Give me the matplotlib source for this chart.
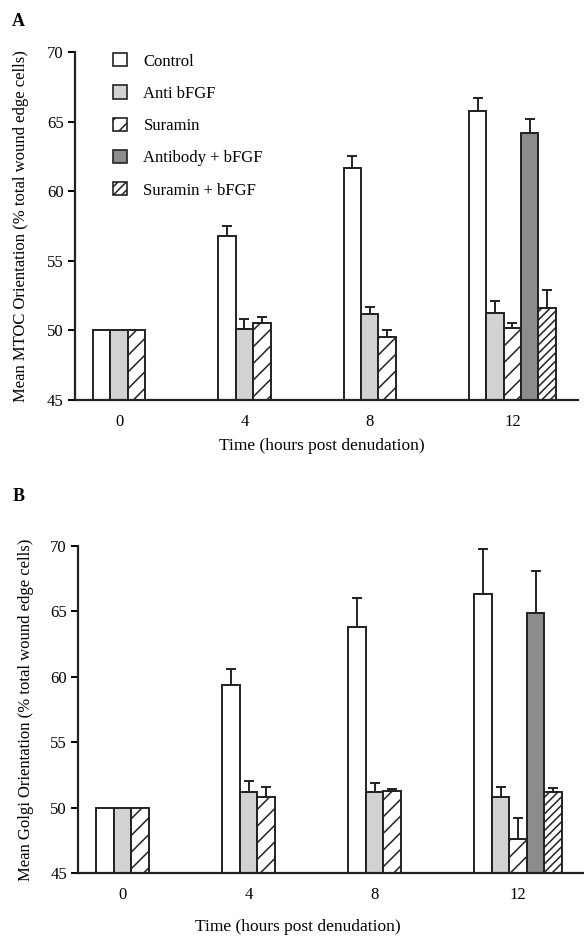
import matplotlib.pyplot as plt
from matplotlib.patches import Patch
import numpy as np

plt.rcParams['font.family'] = ['Liberation Serif', 'DejaVu Serif']
plt.rcParams['hatch.linewidth'] = 1.1

times = ['0', '4', '8', '12']
series = ['Control', 'Anti bFGF', 'Suramin', 'Antibody + bFGF', 'Suramin + bFGF']

# panel A: MTOC orientation (mean, top of error bar)
mtoc_control = [50.0, 56.8, 61.7, 65.8]
mtoc_control_err = [0.0, 0.7, 0.8, 0.9]
mtoc_anti = [50.0, 50.1, 51.2, 51.25]
mtoc_anti_err = [0.0, 0.7, 0.5, 0.85]
mtoc_suramin = [50.0, 50.5, 49.5, 50.2]
mtoc_suramin_err = [0.0, 0.5, 0.5, 0.35]
mtoc_ab_bfgf = [64.2]
mtoc_ab_bfgf_err = [1.0]
mtoc_sur_bfgf = [51.6]
mtoc_sur_bfgf_err = [1.3]

# panel B: Golgi orientation
golgi_control = [50.0, 59.4, 63.8, 66.3]
golgi_control_err = [0.0, 1.2, 2.2, 3.5]
golgi_anti = [50.0, 51.2, 51.2, 50.8]
golgi_anti_err = [0.0, 0.8, 0.7, 0.8]
golgi_suramin = [50.0, 50.8, 51.3, 47.6]
golgi_suramin_err = [0.0, 0.8, 0.1, 1.6]
golgi_ab_bfgf = [64.9]
golgi_ab_bfgf_err = [3.2]
golgi_sur_bfgf = [51.2]
golgi_sur_bfgf_err = [0.3]

styles = [
    dict(facecolor='white', hatch=None),
    dict(facecolor='#d2d2d2', hatch=None),
    dict(facecolor='white', hatch='//'),
    dict(facecolor='#8c8c8c', hatch=None),
    dict(facecolor='white', hatch='////'),
]

w = 0.139
base = 45


def draw(ax, data, ylabel):
    x = np.arange(len(times))
    for k, (vals, err) in enumerate(data):
        pos = x[:len(vals)] if k < 3 else x[3:3 + len(vals)]
        vals = np.array(vals)
        ax.bar(pos + k * w, vals - base, w, bottom=base, align='edge',
               edgecolor='#222222', linewidth=1.4, **styles[k])
        e = np.array(err)
        m = e > 0
        ax.errorbar(pos[m] + k * w + w / 2, vals[m], yerr=[np.zeros(m.sum()), e[m]],
                    fmt='none', ecolor='#222222', elinewidth=1.4, capsize=3.5, capthick=1.4)
    ax.set_ylim(45, 70)
    ax.set_yticks([45, 50, 55, 60, 65, 70])
    ax.set_xlim(-0.144, 3.87)
    centers = x + np.array([3, 3, 3, 5]) * w / 2
    ax.set_xticks(centers)
    ax.set_xticklabels(times)
    ax.tick_params(axis='x', length=0, pad=10, labelsize=12)
    ax.tick_params(axis='y', length=5, width=1.4, direction='out', labelsize=12, pad=3)
    for s in ['top', 'right']:
        ax.spines[s].set_visible(False)
    for s in ['left', 'bottom']:
        ax.spines[s].set_linewidth(1.6)
        ax.spines[s].set_color('#222222')
    ax.set_ylabel(ylabel, fontsize=12)
    ax.set_xlabel('Time (hours post denudation)', fontsize=12.5)


fig = plt.figure(figsize=(5.84, 9.36), dpi=100)
axA = fig.add_axes([0.1284, 0.5726, 0.861, 0.3718])
axB = fig.add_axes([0.1336, 0.0673, 0.8664, 0.3494])

draw(axA, [(mtoc_control, mtoc_control_err), (mtoc_anti, mtoc_anti_err),
           (mtoc_suramin, mtoc_suramin_err), (mtoc_ab_bfgf, mtoc_ab_bfgf_err),
           (mtoc_sur_bfgf, mtoc_sur_bfgf_err)],
     'Mean MTOC Orientation (% total wound edge cells)')
draw(axB, [(golgi_control, golgi_control_err), (golgi_anti, golgi_anti_err),
           (golgi_suramin, golgi_suramin_err), (golgi_ab_bfgf, golgi_ab_bfgf_err),
           (golgi_sur_bfgf, golgi_sur_bfgf_err)],
     'Mean Golgi Orientation (% total wound edge cells)')

axA.yaxis.set_label_coords(-0.092, 0.5)
axB.yaxis.set_label_coords(-0.087, 0.5)
axA.xaxis.set_label_coords(0.49, -0.11)
axB.xaxis.set_label_coords(0.435, -0.14)

handles = [Patch(edgecolor='#222222', linewidth=1.2, **st) for st in styles]
axA.legend(handles, series, loc='upper left', bbox_to_anchor=(0.045, 1.04),
           frameon=False, fontsize=12, handlelength=0.85, handleheight=0.85,
           handletextpad=1.0, labelspacing=0.95)

fig.text(0.021, 0.986, 'A', fontsize=13, fontweight='bold', va='top')
fig.text(0.021, 0.479, 'B', fontsize=13, fontweight='bold', va='top')

fig.savefig('out.png', dpi=100)
